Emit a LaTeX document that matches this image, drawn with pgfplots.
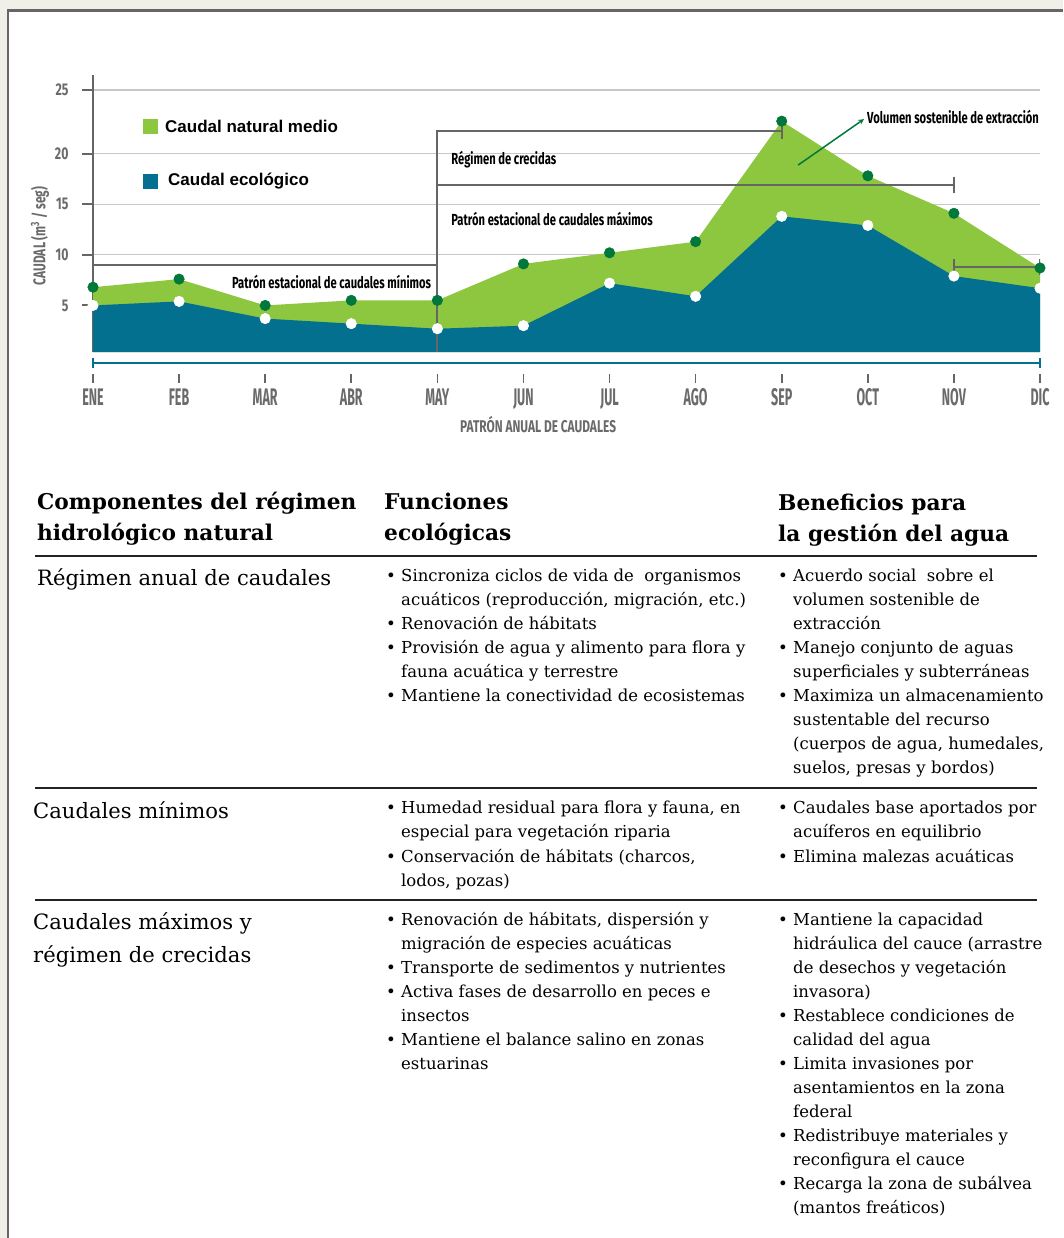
\documentclass[border=0pt]{standalone}
\usepackage{fontspec}
\setmainfont{DejaVu Serif}
\newfontfamily\legfont{Liberation Sans}
\newfontfamily\condM[FakeStretch=0.52]{Fira Sans}
\newfontfamily\condA[FakeStretch=0.7]{Fira Sans}
\newfontfamily\condY[FakeStretch=0.72]{Fira Sans}
\usepackage{pgfplots}
\pgfplotsset{compat=1.18}
\definecolor{natgreen}{HTML}{8DC63F}
\definecolor{ecoblue}{HTML}{04708F}
\definecolor{dotgreen}{HTML}{00783C}
\definecolor{gridgray}{HTML}{C8C8C8}
\definecolor{axgray}{HTML}{666666}
\definecolor{labgray}{HTML}{6A6A6A}
\definecolor{bgbeige}{HTML}{F1F0E8}
\definecolor{rulec}{HTML}{222222}

\pgfplotstableread{
x natural eco
0 6.8 5.0
1 7.6 5.4
2 5.0 3.7
3 5.5 3.2
4 5.5 2.7
5 9.1 3.0
6 10.2 7.2
7 11.3 5.9
8 23.2 13.8
9 17.8 12.9
10 14.1 7.9
11 8.7 6.7
}\flowdata

\newcommand\tl[3]{\node[anchor=base west, inner sep=0pt] at (#1pt,-#2pt) {#3};}

\begin{document}
\begin{tikzpicture}
\useasboundingbox (0pt,0pt) rectangle (1063pt,-1238pt);
\fill[bgbeige] (0pt,0pt) rectangle (1063pt,-1238pt);
\fill[white] (8pt,-10.5pt) rectangle (1063pt,-1238pt);
\draw[axgray, line width=2.5pt] (8pt,-1238pt) -- (8pt,-10.5pt) -- (1063pt,-10.5pt);

\begin{axis}[
  at={(93pt,-352pt)}, anchor=south west,
  scale only axis, width=947pt, height=277pt,
  xmin=0, xmax=11, ymin=0.4, ymax=27.76,
  axis lines*=left,
  x axis line style={draw=none},
  y axis line style={draw=axgray, line width=2pt, -},
  tick align=outside, major tick length=11pt,
  xtick={0,...,11},
  xticklabels={ENE,FEB,MAR,ABR,MAY,JUN,JUL,AGO,SEP,OCT,NOV,DIC},
  xtick style={draw=none},
  xticklabel style={font=\condM\bfseries\fontsize{24}{24}\selectfont, text=labgray, yshift=-22pt},
  ytick={5,10,15,20,26.27},
  yticklabels={5,10,15,20,25},
  ytick style={draw=axgray, line width=2pt},
  yticklabel style={font=\condY\bfseries\fontsize{17}{17}\selectfont, text=labgray, xshift=-10pt},
  ymajorgrids, grid style={gridgray, line width=1.2pt},
  xlabel={PATRÓN ANUAL DE CAUDALES},
  xlabel style={at={(axis description cs:0.47,-0.26)}, anchor=center, font=\condA\bfseries\fontsize{17}{17}\selectfont, text=labgray},
  ylabel={CAUDAL (m\textsuperscript{3} / seg)},
  ylabel style={at={(axis description cs:-0.056,0.419)}, anchor=center, rotate=0, font=\condA\bfseries\fontsize{17}{17}\selectfont, text=labgray},
]
\addplot[fill=natgreen, draw=none] table[x=x, y=natural] {\flowdata} \closedcycle;
\addplot[fill=ecoblue, draw=none] table[x=x, y=eco] {\flowdata} \closedcycle;

% brackets
\draw[axgray, line width=2pt] (axis cs:0,9.0) -- (axis cs:4,9.0);
\draw[axgray, line width=2pt] (axis cs:4,0.4) -- (axis cs:4,22.25) -- (axis cs:8,22.25);
\draw[axgray, line width=2pt] (axis cs:8,22.9) -- (axis cs:8,21.4);
\draw[axgray, line width=2pt] (axis cs:4,16.86) -- (axis cs:10,16.86);
\draw[axgray, line width=2pt] (axis cs:10,17.7) -- (axis cs:10,16.1);
\draw[axgray, line width=2pt] (axis cs:10,9.57) -- (axis cs:10,8.0);
\draw[axgray, line width=2pt] (axis cs:10,8.75) -- (axis cs:11,8.75);
\draw[axgray, line width=2pt] (axis cs:11,9.57) -- (axis cs:11,8.0);

\node[anchor=east, inner sep=0pt, font=\condA\bfseries\fontsize{16}{16}\selectfont] at (axis cs:3.93,7.3) {Patrón estacional de caudales mínimos};
\node[anchor=west, inner sep=0pt, font=\condA\bfseries\fontsize{16}{16}\selectfont] at (axis cs:4.16,19.36) {Régimen de crecidas};
\node[anchor=west, inner sep=0pt, font=\condA\bfseries\fontsize{16}{16}\selectfont] at (axis cs:4.16,13.53) {Patrón estacional de caudales máximos};
\node[anchor=west, inner sep=0pt, font=\condA\bfseries\fontsize{16}{16}\selectfont] at (axis cs:8.99,23.6) {Volumen sostenible de extracción};
\draw[dotgreen, line width=1.5pt, -stealth] (axis cs:8.19,18.86) -- (axis cs:8.955,23.4);

\addplot[color=dotgreen, only marks, mark=*, mark size=5.2pt, mark options={solid, fill=dotgreen, draw=dotgreen, line width=0.6pt}] table[x=x, y=natural] {\flowdata};
\addplot[color=white, only marks, mark=*, mark size=5.2pt, mark options={solid, fill=white, draw=white, line width=0.6pt}] table[x=x, y=eco] {\flowdata};
\end{axis}

% teal axis line and month ticks
\draw[ecoblue, line width=2pt] (93pt,-363pt) -- (1040pt,-363pt);
\draw[ecoblue, line width=2pt] (93pt,-358pt) -- (93pt,-368pt);
\draw[ecoblue, line width=2pt] (1040pt,-358pt) -- (1040pt,-368pt);
\foreach \i in {0,...,11} {
  \draw[axgray, line width=1.6pt] ({93+86.09*\i pt},-374pt) -- ({93+86.09*\i pt},-383pt);
}

% legend
\fill[natgreen] (143pt,-119pt) rectangle (158pt,-134pt);
\fill[ecoblue] (143pt,-174pt) rectangle (158pt,-189pt);
\node[anchor=west, inner sep=0pt, font=\legfont\bfseries\fontsize{17}{17}\selectfont] at (165pt,-126pt) {Caudal natural medio};
\node[anchor=west, inner sep=0pt, font=\legfont\bfseries\fontsize{17}{17}\selectfont] at (168pt,-181pt) {Caudal ecológico};

% table
\begin{scope}[font=\bfseries\fontsize{21.7}{21.7}\selectfont]
\tl{37}{509}{Componentes del régimen}
\tl{37}{540}{hidrológico natural}
\tl{384}{509}{Funciones}
\tl{384}{540}{ecológicas}
\tl{778}{510}{Beneficios para}
\tl{778}{541}{la gestión del agua}
\end{scope}
\draw[rulec, line width=2pt] (35pt,-556pt) -- (1037pt,-556pt);
\draw[rulec, line width=1.5pt] (35pt,-788pt) -- (1037pt,-788pt);
\draw[rulec, line width=1.5pt] (35pt,-900pt) -- (1037pt,-900pt);

\begin{scope}[font=\fontsize{21.1}{21.1}\selectfont]
\tl{37}{585}{Régimen anual de caudales}
\tl{33}{818}{Caudales mínimos}
\tl{33}{929}{Caudales máximos y}
\tl{33}{962}{régimen de crecidas}
\end{scope}

\begin{scope}[font=\fontsize{16.5}{16.5}\selectfont]
% row 1 col 2
\tl{386}{581}{•}\tl{401}{581}{Sincroniza ciclos de vida de\ \ organismos}
\tl{401}{605}{acuáticos (reproducción, migración, etc.)}
\tl{386}{629}{•}\tl{401}{629}{Renovación de hábitats}
\tl{386}{653}{•}\tl{401}{653}{Provisión de agua y alimento para flora y}
\tl{401}{677}{fauna acuática y terrestre}
\tl{386}{701}{•}\tl{401}{701}{Mantiene la conectividad de ecosistemas}
% row 1 col 3
\tl{778}{581}{•}\tl{793}{581}{Acuerdo social\ \ sobre el}
\tl{793}{605}{volumen sostenible de}
\tl{793}{629}{extracción}
\tl{778}{653}{•}\tl{793}{653}{Manejo conjunto de aguas}
\tl{793}{677}{superficiales y subterráneas}
\tl{778}{701}{•}\tl{793}{701}{Maximiza un almacenamiento}
\tl{793}{725}{sustentable del recurso}
\tl{793}{749}{(cuerpos de agua, humedales,}
\tl{793}{773}{suelos, presas y bordos)}
% row 2 col 2
\tl{386}{813}{•}\tl{401}{813}{Humedad residual para flora y fauna, en}
\tl{401}{837}{especial para vegetación riparia}
\tl{386}{862}{•}\tl{401}{862}{Conservación de hábitats (charcos,}
\tl{401}{886}{lodos, pozas)}
% row 2 col 3
\tl{778}{813}{•}\tl{793}{813}{Caudales base aportados por}
\tl{793}{837}{acuíferos en equilibrio}
\tl{778}{862}{•}\tl{793}{862}{Elimina malezas acuáticas}
% row 3 col 2
\tl{386}{925}{•}\tl{401}{925}{Renovación de hábitats, dispersión y}
\tl{401}{949}{migración de especies acuáticas}
\tl{386}{973}{•}\tl{401}{973}{Transporte de sedimentos y nutrientes}
\tl{386}{997}{•}\tl{401}{997}{Activa fases de desarrollo en peces e}
\tl{401}{1021}{insectos}
\tl{386}{1045}{•}\tl{401}{1045}{Mantiene el balance salino en zonas}
\tl{401}{1069}{estuarinas}
% row 3 col 3
\tl{778}{925}{•}\tl{793}{925}{Mantiene la capacidad}
\tl{793}{949}{hidráulica del cauce (arrastre}
\tl{793}{973}{de desechos y vegetación}
\tl{793}{997}{invasora)}
\tl{778}{1021}{•}\tl{793}{1021}{Restablece condiciones de}
\tl{793}{1045}{calidad del agua}
\tl{778}{1069}{•}\tl{793}{1069}{Limita invasiones por}
\tl{793}{1093}{asentamientos en la zona}
\tl{793}{1117}{federal}
\tl{778}{1141}{•}\tl{793}{1141}{Redistribuye materiales y}
\tl{793}{1165}{reconfigura el cauce}
\tl{778}{1189}{•}\tl{793}{1189}{Recarga la zona de subálvea}
\tl{793}{1213}{(mantos freáticos)}
\end{scope}
\end{tikzpicture}
\end{document}
